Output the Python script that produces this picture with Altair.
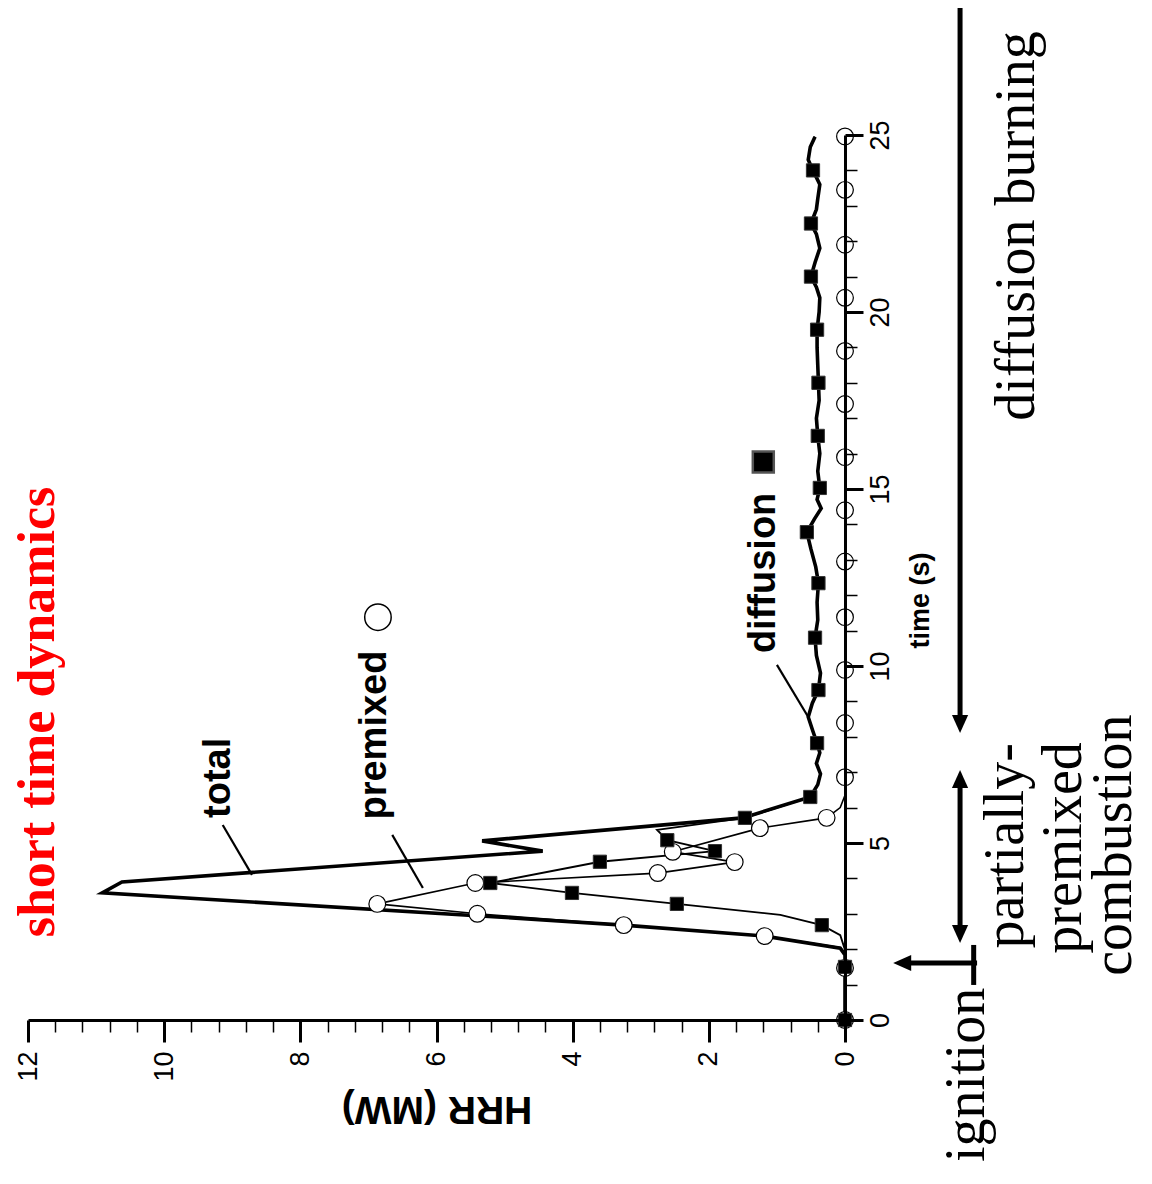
import altair as alt
import pandas as pd

SANS = "Liberation Sans"
SERIF = "Liberation Serif"

# ---------------- data (time s, HRR MW) ----------------
total_peak = [(0, 0), (1.5, 0), (1.84, 0), (2.03, 0.07), (2.37, 1.18), (2.68, 3.25),
              (2.91, 5.11), (3.59, 10.91), (3.90, 10.62), (4.77, 4.44), (5.06, 5.33),
              (5.71, 1.50)]

diffusion_line = [(0, 0), (1.5, 0), (1.98, 0), (2.40, 0.07), (2.68, 0.34), (2.97, 0.95),
                  (3.28, 2.47), (3.59, 4.01), (3.87, 5.21), (4.47, 3.60), (4.77, 1.91),
                  (5.08, 2.61), (5.37, 2.76), (5.71, 1.47), (6.30, 0.51), (6.65, 0.40),
                  (6.95, 0.36), (7.25, 0.42), (7.55, 0.37), (7.82, 0.41), (8.15, 0.47),
                  (8.56, 0.54), (8.95, 0.48), (9.32, 0.39), (9.80, 0.36), (10.30, 0.42),
                  (10.80, 0.44), (11.30, 0.40), (11.80, 0.41), (12.34, 0.39), (12.80, 0.43),
                  (13.30, 0.50), (13.78, 0.56), (14.15, 0.45), (14.45, 0.35), (14.70, 0.41),
                  (15.03, 0.37), (15.50, 0.40), (16.00, 0.37), (16.50, 0.40), (17.00, 0.42),
                  (17.50, 0.38), (18.00, 0.39), (18.50, 0.40), (19.00, 0.41), (19.50, 0.41),
                  (20.00, 0.38), (20.40, 0.37), (20.70, 0.42), (21.00, 0.50), (21.40, 0.44),
                  (21.80, 0.37), (22.20, 0.42), (22.50, 0.50), (22.90, 0.42), (23.20, 0.40),
                  (23.60, 0.37), (24.00, 0.47), (24.30, 0.54), (24.66, 0.51), (24.95, 0.44)]

diffusion_markers = [(0, 0), (1.5, 0), (2.68, 0.34), (3.28, 2.47), (3.59, 4.01), (3.87, 5.21),
                     (4.47, 3.60), (4.77, 1.91), (5.08, 2.61), (5.71, 1.47), (6.30, 0.51),
                     (7.82, 0.41), (9.32, 0.39), (10.80, 0.44), (12.34, 0.39), (13.78, 0.56),
                     (15.03, 0.37), (16.50, 0.40), (18.00, 0.39), (19.50, 0.41), (21.00, 0.50),
                     (22.50, 0.50), (24.00, 0.47)]

premixed_line = [(0, 0), (1.47, 0), (1.90, 0), (2.05, 0.07), (2.37, 1.18), (2.68, 3.25),
                 (3.00, 5.40), (3.28, 6.87), (3.87, 5.43), (4.15, 2.75), (4.46, 1.62),
                 (4.75, 2.53), (5.42, 1.25), (5.71, 0.27), (6.00, 0.07), (6.35, 0), (25, 0)]

premixed_markers = [(0, 0), (1.47, 0), (2.37, 1.18), (2.68, 3.25), (3.00, 5.40), (3.28, 6.87),
                    (3.87, 5.43), (4.15, 2.75), (4.46, 1.62), (4.75, 2.53), (5.42, 1.25),
                    (5.71, 0.27), (6.86, 0), (8.39, 0), (9.89, 0), (11.38, 0), (12.95, 0),
                    (14.40, 0), (15.90, 0), (17.40, 0), (18.90, 0), (20.40, 0), (21.90, 0),
                    (23.45, 0), (24.96, 0)]

# total = premixed + diffusion; after ~6.3 s it lies on the diffusion curve
total_line = total_peak + [p for p in diffusion_line if p[0] >= 6.30]

# leader lines of the curve labels (t1, h1, t2, h2)
leaders = [(5.51, 9.14, 4.10, 8.71), (5.23, 6.65, 3.73, 6.20), (10.03, 1.00, 8.56, 0.54)]

# phase arrows (shafts) (t1, h1, t2, h2)
arrow_shafts = [(28.8, -1.69, 8.45, -1.69), (6.85, -1.69, 2.40, -1.69),
                (1.61, -1.94, 1.61, -0.85), (2.12, -1.89, 0.99, -1.89)]
arrow_heads = [(8.36, -1.69, "down"), (6.81, -1.69, "up"), (2.43, -1.69, "down"),
               (1.61, -0.84, "left")]

# tick values
hrr_major = [0, 2, 4, 6, 8, 10, 12]
hrr_minor = [0.4, 0.8, 1.2, 1.6, 2.4, 2.8, 3.2, 3.6, 4.4, 4.8, 5.2, 5.6, 6.4, 6.8, 7.2, 7.6,
             8.4, 8.8, 9.2, 9.6, 10.4, 10.8, 11.2, 11.6]
time_major = [0, 5, 10, 15, 20, 25]
time_minor = [1, 2, 3, 4, 6, 7, 8, 9, 11, 12, 13, 14, 16, 17, 18, 19, 21, 22, 23, 24]

# text annotations (label, t, h)
curve_labels = [("total", 6.84, 9.03), ("premixed", 8.05, 6.74), ("diffusion", 12.63, 1.03)]
title_label = [("short time dynamics", 8.70, 11.62)]
phase_labels = [("diffusion burning", 22.43, -2.78), ("partially-", 4.92, -2.62),
                ("premixed", 4.86, -3.46), ("combustion", 4.94, -4.20),
                ("ignition", -1.55, -2.04)]
legend_circle = [(11.38, 6.86)]
legend_square = [(15.76, 1.20)]


def pairs_df(pairs):
    return pd.DataFrame({"t": [p[0] for p in pairs], "h": [p[1] for p in pairs],
                         "i": list(range(len(pairs)))})


def seg_df(segs):
    return pd.DataFrame({"t1": [s[0] for s in segs], "h1": [s[1] for s in segs],
                         "t2": [s[2] for s in segs], "h2": [s[3] for s in segs]})


def text_df(items):
    return pd.DataFrame({"label": [s[0] for s in items], "t": [s[1] for s in items],
                         "h": [s[2] for s in items]})


xs = alt.Scale(domain=[0, 12], reverse=True, nice=False, zero=False)
ys = alt.Scale(domain=[0, 25], nice=False, zero=False)

x_main = alt.Axis(values=hrr_major, orient="bottom", title="HRR (MW)", titleAngle=180,
                  titleX=408.5, titleY=88, titleAlign="center", titleBaseline="middle",
                  titleFont=SANS, titleFontSize=39, titleFontWeight="bold", titleColor="black",
                  labelAngle=270, labelAlign="right", labelBaseline="middle", labelFont=SANS,
                  labelFontSize=27, labelPadding=9, labelColor="black", labelFlush=False,
                  labelOverlap=False, tickSize=22, tickWidth=3, tickColor="black",
                  domainWidth=3, domainColor="black", grid=False, zindex=1)
x_minor = alt.Axis(values=hrr_minor, orient="bottom", title="", labels=False, domain=False,
                   tickSize=12, tickWidth=1.5, tickColor="black", grid=False, zindex=1)
y_main = alt.Axis(values=time_major, orient="right", title="time (s)", titleAngle=270,
                  titleX=75, titleY=465, titleAlign="center", titleBaseline="middle",
                  titleFont=SANS, titleFontSize=27, titleFontWeight="bold", titleColor="black",
                  labelAngle=270, labelAlign="center", labelBaseline="top", labelFont=SANS,
                  labelFontSize=27, labelPadding=4, labelColor="black", labelFlush=False,
                  labelOverlap=False, tickSize=18, tickWidth=3, tickColor="black",
                  domainWidth=3, domainColor="black", grid=False, zindex=1)
y_minor = alt.Axis(values=time_minor, orient="right", title="", labels=False, domain=False,
                   tickSize=12, tickWidth=1.5, tickColor="black", grid=False, zindex=1)


total_layer = alt.Chart(pairs_df(total_line)).mark_line(
    color="black", strokeWidth=3.6, strokeJoin="miter").encode(
    x=alt.X("h:Q", scale=xs, axis=x_main), y=alt.Y("t:Q", scale=ys, axis=y_main),
    order=alt.Order("i:Q"))

premixed_layer = alt.Chart(pairs_df(premixed_line)).mark_line(
    color="black", strokeWidth=1.6).encode(
    x=alt.X("h:Q", scale=xs, axis=x_minor), y=alt.Y("t:Q", scale=ys, axis=y_minor),
    order=alt.Order("i:Q"))

diffusion_layer = alt.Chart(pairs_df(diffusion_line)).mark_line(
    color="black", strokeWidth=1.9).encode(
    x=alt.X("h:Q", scale=xs, axis=None), y=alt.Y("t:Q", scale=ys, axis=None),
    order=alt.Order("i:Q"))

premixed_pts = alt.Chart(pairs_df(premixed_markers)).mark_point(
    shape="circle", filled=True, fill="white", stroke="black", strokeWidth=1.2,
    size=280, opacity=1).encode(
    x=alt.X("h:Q", scale=xs, axis=None), y=alt.Y("t:Q", scale=ys, axis=None))

diffusion_pts = alt.Chart(pairs_df(diffusion_markers)).mark_point(
    shape="square", filled=True, fill="black", stroke="#333333", strokeWidth=1,
    size=175, opacity=1).encode(
    x=alt.X("h:Q", scale=xs, axis=None), y=alt.Y("t:Q", scale=ys, axis=None))

leader_layer = alt.Chart(seg_df(leaders)).mark_rule(color="black", strokeWidth=2.2).encode(
    x=alt.X("h1:Q", scale=xs, axis=None), x2="h2:Q",
    y=alt.Y("t1:Q", scale=ys, axis=None), y2="t2:Q")

shaft_layer = alt.Chart(seg_df(arrow_shafts)).mark_rule(color="black", strokeWidth=5).encode(
    x=alt.X("h1:Q", scale=xs, axis=None), x2="h2:Q",
    y=alt.Y("t1:Q", scale=ys, axis=None), y2="t2:Q")

heads_df = pd.DataFrame({"t": [a[0] for a in arrow_heads], "h": [a[1] for a in arrow_heads],
                         "dir": [a[2] for a in arrow_heads]})
UP = "M0,-1L0.9,1L-0.9,1Z"
DOWN = "M0,1L0.9,-1L-0.9,-1Z"
LEFT = "M-1,0L1,-0.9L1,0.9Z"
head_layer = alt.Chart(heads_df).mark_point(filled=True, color="black", size=324,
                                            opacity=1).encode(
    x=alt.X("h:Q", scale=xs, axis=None), y=alt.Y("t:Q", scale=ys, axis=None),
    shape=alt.Shape("dir:N", scale=alt.Scale(domain=["up", "down", "left"],
                                             range=[UP, DOWN, LEFT]), legend=None))

curve_text = alt.Chart(text_df(curve_labels)).mark_text(
    angle=270, align="center", baseline="alphabetic", font=SANS, fontSize=38,
    fontWeight="bold", color="black").encode(
    x=alt.X("h:Q", scale=xs, axis=None), y=alt.Y("t:Q", scale=ys, axis=None), text="label:N")

title_text = alt.Chart(text_df(title_label)).mark_text(
    angle=270, align="center", baseline="alphabetic", font=SERIF, fontSize=52,
    fontWeight="bold", color="#ff0000").encode(
    x=alt.X("h:Q", scale=xs, axis=None), y=alt.Y("t:Q", scale=ys, axis=None), text="label:N")

phase_text = alt.Chart(text_df(phase_labels)).mark_text(
    angle=270, align="center", baseline="alphabetic", font=SERIF, fontSize=56,
    color="black").encode(
    x=alt.X("h:Q", scale=xs, axis=None), y=alt.Y("t:Q", scale=ys, axis=None), text="label:N")

legend_c = alt.Chart(pairs_df(legend_circle)).mark_point(
    shape="circle", filled=True, fill="white", stroke="black", strokeWidth=1.5,
    size=700, opacity=1).encode(
    x=alt.X("h:Q", scale=xs, axis=None), y=alt.Y("t:Q", scale=ys, axis=None))

legend_s = alt.Chart(pairs_df(legend_square)).mark_point(
    shape="square", filled=True, fill="black", stroke="#555555", strokeWidth=2.5,
    size=440, opacity=1).encode(
    x=alt.X("h:Q", scale=xs, axis=None), y=alt.Y("t:Q", scale=ys, axis=None))

chart = alt.layer(
    total_layer, premixed_layer, diffusion_layer, leader_layer, premixed_pts, diffusion_pts,
    shaft_layer, head_layer, curve_text, title_text, phase_text, legend_c, legend_s
).resolve_axis(x="independent", y="independent").properties(
    width=817, height=885,
    autosize=alt.AutoSizeParams(type="none"),
    padding={"left": 20, "top": 127, "right": 299, "bottom": 160},
    background="white",
).configure_view(stroke="transparent", strokeWidth=0)

chart.save("out.html", embed_options={"renderer": "svg", "actions": False})
